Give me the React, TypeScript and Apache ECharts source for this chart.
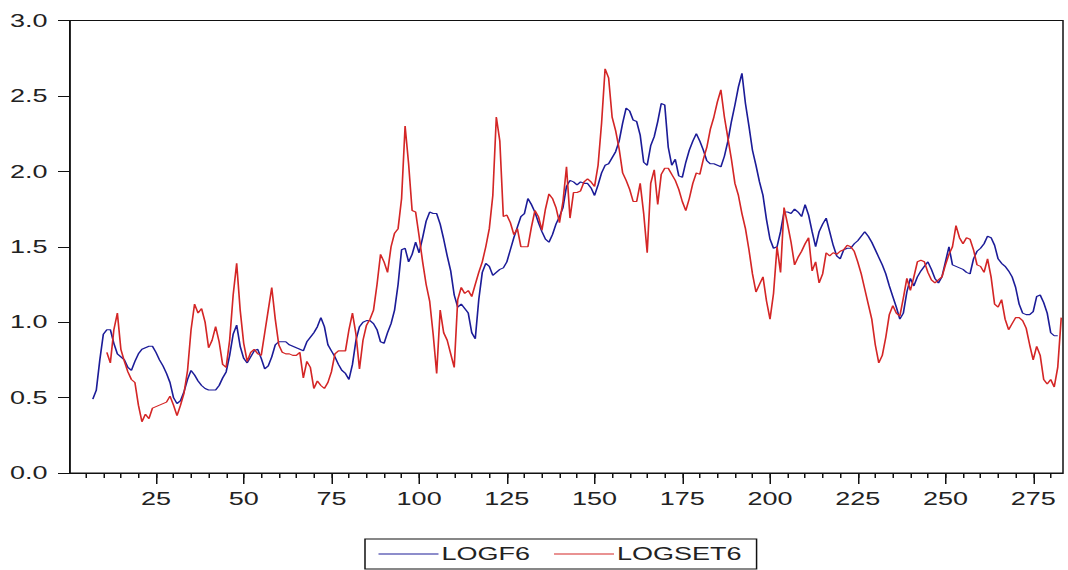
import React, { useEffect, useRef } from "react";
import * as echarts from "echarts";

// Observation numbers run from 1 to 283 on the horizontal axis.
const OBS_TOTAL = 283;
const MAJOR_STEP = 25;
const MINOR_STEP = 5;
const Y_TICKS = [0, 0.5, 1, 1.5, 2, 2.5, 3];

const LOGF6_START = 7;
const logf6 = [
  0.49, 0.55, 0.75, 0.92, 0.95, 0.95, 0.86, 0.79, 0.77, 0.75,
  0.70, 0.68, 0.74, 0.79, 0.82, 0.83, 0.84, 0.84, 0.80, 0.75,
  0.71, 0.66, 0.60, 0.50, 0.46, 0.48, 0.54, 0.62, 0.68, 0.65,
  0.61, 0.58, 0.56, 0.55, 0.55, 0.55, 0.58, 0.63, 0.67, 0.78,
  0.92, 0.98, 0.84, 0.76, 0.73, 0.77, 0.81, 0.82, 0.76, 0.69,
  0.71, 0.77, 0.85, 0.87, 0.87, 0.87, 0.85, 0.84, 0.83, 0.82,
  0.81, 0.87, 0.90, 0.93, 0.97, 1.03, 0.97, 0.85, 0.81, 0.77,
  0.72, 0.68, 0.66, 0.62, 0.72, 0.88, 0.97, 1.00, 1.01, 1.01,
  0.99, 0.95, 0.87, 0.86, 0.93, 0.99, 1.08, 1.25, 1.48, 1.49,
  1.40, 1.45, 1.53, 1.46, 1.56, 1.67, 1.73, 1.72, 1.72, 1.65,
  1.55, 1.44, 1.34, 1.18, 1.10, 1.12, 1.09, 1.06, 0.93, 0.89,
  1.15, 1.33, 1.39, 1.37, 1.31, 1.33, 1.35, 1.36, 1.40, 1.48,
  1.56, 1.63, 1.70, 1.72, 1.82, 1.78, 1.73, 1.66, 1.60, 1.55,
  1.53, 1.58, 1.65, 1.70, 1.76, 1.90, 1.94, 1.93, 1.91, 1.93,
  1.92, 1.92, 1.89, 1.84, 1.91, 1.99, 2.04, 2.05, 2.09, 2.13,
  2.20, 2.32, 2.42, 2.40, 2.34, 2.33, 2.24, 2.06, 2.04, 2.17,
  2.23, 2.33, 2.45, 2.44, 2.16, 2.04, 2.08, 1.97, 1.96, 2.06,
  2.14, 2.20, 2.25, 2.20, 2.14, 2.07, 2.05, 2.05, 2.04, 2.03,
  2.10, 2.20, 2.33, 2.44, 2.56, 2.65, 2.45, 2.30, 2.14, 2.04,
  1.93, 1.84, 1.68, 1.55, 1.49, 1.50, 1.60, 1.73, 1.73, 1.72,
  1.75, 1.73, 1.70, 1.78, 1.71, 1.60, 1.50, 1.60, 1.65, 1.69,
  1.60, 1.51, 1.44, 1.42, 1.48, 1.49, 1.49, 1.52, 1.54, 1.57,
  1.60, 1.57, 1.53, 1.48, 1.43, 1.38, 1.32, 1.24, 1.17, 1.10,
  1.02, 1.06, 1.20, 1.29, 1.24, 1.30, 1.34, 1.37, 1.40, 1.35,
  1.29, 1.26, 1.30, 1.40, 1.50, 1.38, 1.37, 1.36, 1.35, 1.33,
  1.32, 1.42, 1.47, 1.49, 1.52, 1.57, 1.56, 1.51, 1.42, 1.39,
  1.37, 1.34, 1.30, 1.23, 1.12, 1.06, 1.05, 1.05, 1.07, 1.17,
  1.18, 1.13, 1.06, 0.93, 0.91, 0.91,
];

const LOGSET6_START = 11;
const logset6 = [
  0.80, 0.73, 0.95, 1.06, 0.82, 0.74, 0.67, 0.62, 0.60, 0.45,
  0.34, 0.39, 0.36, 0.43, 0.44, 0.45, 0.46, 0.47, 0.51, 0.45,
  0.38, 0.45, 0.53, 0.68, 0.95, 1.12, 1.06, 1.09, 1.00, 0.83,
  0.88, 0.97, 0.87, 0.72, 0.70, 0.88, 1.18, 1.39, 1.08, 0.86,
  0.74, 0.80, 0.82, 0.79, 0.78, 0.93, 1.08, 1.23, 1.02, 0.85,
  0.80, 0.79, 0.79, 0.78, 0.78, 0.80, 0.63, 0.74, 0.70, 0.56,
  0.61, 0.58, 0.56, 0.60, 0.67, 0.79, 0.81, 0.81, 0.81, 0.95,
  1.06, 0.92, 0.69, 0.88, 0.98, 1.02, 1.08, 1.25, 1.45, 1.40,
  1.33, 1.50, 1.59, 1.62, 1.82, 2.30, 2.05, 1.74, 1.73, 1.57,
  1.40, 1.25, 1.14, 0.92, 0.66, 1.08, 0.93, 0.88, 0.79, 0.70,
  1.15, 1.23, 1.19, 1.21, 1.17, 1.25, 1.33, 1.40, 1.50, 1.62,
  1.84, 2.36, 2.20, 1.70, 1.71, 1.66, 1.58, 1.62, 1.50, 1.50,
  1.50, 1.63, 1.74, 1.70, 1.61, 1.75, 1.85, 1.82, 1.76, 1.66,
  1.80, 2.03, 1.69, 1.86, 1.86, 1.87, 1.93, 1.95, 1.93, 1.90,
  2.04, 2.32, 2.68, 2.62, 2.36, 2.27, 2.15, 1.99, 1.94, 1.88,
  1.80, 1.80, 1.92, 1.72, 1.46, 1.92, 2.01, 1.78, 1.98, 2.02,
  2.02, 1.98, 1.94, 1.88, 1.80, 1.74, 1.82, 1.92, 1.99, 1.98,
  2.08, 2.16, 2.28, 2.36, 2.46, 2.54, 2.36, 2.22, 2.08, 1.92,
  1.84, 1.72, 1.62, 1.48, 1.32, 1.20, 1.25, 1.30, 1.14, 1.02,
  1.19, 1.50, 1.33, 1.76, 1.65, 1.53, 1.38, 1.43, 1.47, 1.52,
  1.56, 1.34, 1.40, 1.26, 1.32, 1.46, 1.44, 1.46, 1.45, 1.47,
  1.48, 1.51, 1.50, 1.47, 1.40, 1.32, 1.22, 1.12, 1.02, 0.85,
  0.73, 0.78, 0.90, 1.05, 1.11, 1.06, 1.04, 1.16, 1.29, 1.21,
  1.30, 1.40, 1.41, 1.40, 1.33, 1.28, 1.26, 1.28, 1.30, 1.38,
  1.45, 1.50, 1.64, 1.56, 1.52, 1.56, 1.55, 1.48, 1.38, 1.37,
  1.33, 1.42, 1.30, 1.12, 1.10, 1.15, 1.02, 0.95, 0.99, 1.03,
  1.03, 1.01, 0.96, 0.85, 0.75, 0.84, 0.78, 0.62, 0.59, 0.62,
  0.57, 0.70, 1.03,
];

const categories = Array.from({ length: OBS_TOTAL }, (_, i) => String(i + 1));

// Place a series that starts at a later observation onto the full category list.
function alignSeries(start: number, values: number[]): (number | null)[] {
  const out: (number | null)[] = new Array(OBS_TOTAL).fill(null);
  values.forEach((v, i) => {
    out[start - 1 + i] = v;
  });
  return out;
}

// The page is drawn narrower and stretched horizontally, which gives the wide lettering.
const STRETCH = 1.5;
const PAGE_W = 1068;
const PAGE_H = 570;
const INNER_W = PAGE_W / STRETCH;

const FONT = "'Liberation Sans', Arial, sans-serif";
const TEXT_COLOR = "#222";
const BLUE = "#1c1c98";
const RED = "#d42626";

export default function App() {
  const ref = useRef<HTMLDivElement>(null);

  useEffect(() => {
    if (!ref.current) return;
    const chart = echarts.init(ref.current, undefined, { renderer: "svg" });
    const isMinor = (index: number) => (index + 1) % MINOR_STEP === 0;
    const isMajor = (index: number) => (index + 1) % MAJOR_STEP === 0;

    chart.setOption({
      animation: false,
      backgroundColor: "#ffffff",
      grid: {
        left: 70 / STRETCH,
        right: 5 / STRETCH,
        top: 20.5,
        bottom: 97,
        show: true,
        borderColor: "#111",
        borderWidth: 1,
        backgroundColor: "transparent",
      },
      legend: {
        left: 365 / STRETCH,
        top: 539,
        orient: "horizontal",
        data: [
          { name: "LOGF6", icon: "rect", itemStyle: { color: BLUE } },
          { name: "LOGSET6", icon: "rect", itemStyle: { color: RED } },
        ],
        itemWidth: 40,
        itemHeight: 1.2,
        itemGap: 16,
        padding: [5, 10, 5, 9],
        borderColor: "#111",
        borderWidth: 1,
        textStyle: {
          fontFamily: FONT,
          fontSize: 18,
          color: TEXT_COLOR,
          lineHeight: 20,
          padding: [0, 0, 0, -3],
        },
      },
      xAxis: [
        {
          type: "category",
          data: categories,
          position: "bottom",
          boundaryGap: true,
          axisLine: { show: true, lineStyle: { color: "#111", width: 1 } },
          axisTick: {
            show: true,
            alignWithLabel: true,
            interval: (index: number) => isMinor(index),
            length: 5,
            lineStyle: { color: "#111", width: 1 },
          },
          axisLabel: { show: false },
          splitLine: { show: false },
        },
        {
          type: "category",
          data: categories,
          position: "bottom",
          boundaryGap: true,
          axisLine: { show: false },
          axisTick: {
            show: true,
            alignWithLabel: true,
            interval: (index: number) => isMajor(index),
            length: 11,
            lineStyle: { color: "#111", width: 1 },
          },
          axisLabel: {
            show: true,
            interval: (index: number) => isMajor(index),
            margin: 17,
            fontFamily: FONT,
            fontSize: 18,
            color: TEXT_COLOR,
          },
          splitLine: { show: false },
        },
      ],
      yAxis: {
        type: "value",
        min: Y_TICKS[0],
        max: Y_TICKS[Y_TICKS.length - 1],
        interval: 0.5,
        axisLine: { show: true, lineStyle: { color: "#111", width: 1 } },
        axisTick: { show: true, length: 8, lineStyle: { color: "#111", width: 1 } },
        axisLabel: {
          margin: 15,
          fontFamily: FONT,
          fontSize: 18,
          color: TEXT_COLOR,
          formatter: (v: number) => v.toFixed(1),
        },
        splitLine: { show: false },
      },
      series: [
        {
          name: "LOGF6",
          type: "line",
          xAxisIndex: 0,
          data: alignSeries(LOGF6_START, logf6),
          symbol: "none",
          connectNulls: false,
          lineStyle: { color: BLUE, width: 1.1 },
          itemStyle: { color: BLUE },
        },
        {
          name: "LOGSET6",
          type: "line",
          xAxisIndex: 0,
          data: alignSeries(LOGSET6_START, logset6),
          symbol: "none",
          connectNulls: false,
          lineStyle: { color: RED, width: 1.1 },
          itemStyle: { color: RED },
        },
      ],
    });

    return () => {
      chart.dispose();
    };
  }, []);

  return (
    <div
      style={{
        position: "absolute",
        left: 0,
        top: 0,
        width: PAGE_W,
        height: PAGE_H,
        overflow: "hidden",
        background: "#fff",
      }}
    >
      <div
        ref={ref}
        style={{
          width: INNER_W,
          height: PAGE_H,
          transform: `scaleX(${STRETCH})`,
          transformOrigin: "0 0",
        }}
      />
    </div>
  );
}
